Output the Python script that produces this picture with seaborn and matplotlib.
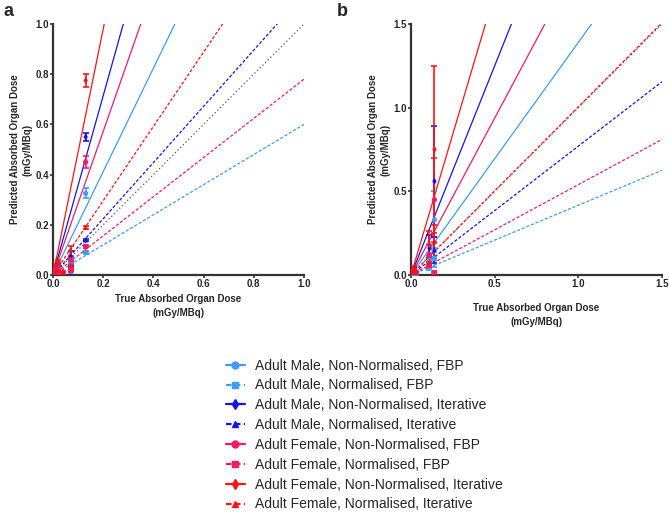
import numpy as np
import pandas as pd
import matplotlib
matplotlib.use('Agg')
import matplotlib.pyplot as plt
import seaborn as sns
from matplotlib.lines import Line2D

sns.set_style("ticks")
plt.rcParams['font.family'] = ['Liberation Sans', 'DejaVu Sans']

series = ['Adult Male, Non-Normalised, FBP', 'Adult Male, Normalised, FBP',
          'Adult Male, Non-Normalised, Iterative', 'Adult Male, Normalised, Iterative',
          'Adult Female, Non-Normalised, FBP', 'Adult Female, Normalised, FBP',
          'Adult Female, Non-Normalised, Iterative', 'Adult Female, Normalised, Iterative']
colors = ['#3f9bf5', '#3f9bf5', '#1414e6', '#1414e6', '#f01c64', '#f01c64', '#ff1414', '#ff1414']
markers = ['o', 's', 'd', '^', 'o', 's', 'd', '^']
normalised = [False, True, False, True, False, True, False, True]

# panel a: fitted slopes and measured points
slopes_a = [2.06, 0.60, 3.57, 1.12, 2.86, 0.78, 4.90, 1.48]
x_a = [0.01, 0.02, 0.04, 0.07, 0.13]
y_a = [[0.02, 0.03, 0.01, 0.05, 0.325],
       [0.005, 0.01, 0.005, 0.015, 0.09],
       [0.03, 0.04, 0.01, 0.075, 0.55],
       [0.01, 0.015, 0.005, 0.03, 0.14],
       [0.025, 0.035, 0.01, 0.06, 0.45],
       [0.008, 0.012, 0.005, 0.02, 0.115],
       [0.035, 0.05, 0.012, 0.095, 0.775],
       [0.012, 0.02, 0.006, 0.04, 0.19]]
e_a = [[0.005, 0.005, 0.003, 0.012, 0.02],
       [0.002, 0.002, 0.001, 0.004, 0.005],
       [0.006, 0.006, 0.003, 0.02, 0.015],
       [0.003, 0.003, 0.001, 0.006, 0.005],
       [0.005, 0.006, 0.003, 0.015, 0.025],
       [0.002, 0.003, 0.001, 0.005, 0.005],
       [0.008, 0.008, 0.004, 0.022, 0.025],
       [0.003, 0.004, 0.002, 0.008, 0.005]]

# panel b
slopes_b = [1.39, 0.417, 2.50, 0.77, 1.875, 0.54, 3.37, 1.005]
x_b = [0.005, 0.015, 0.03, 0.11, 0.14]
y_b = [[0.01, 0.02, 0.01, 0.09, 0.33],
       [0.004, 0.008, 0.004, 0.05, 0.10],
       [0.015, 0.03, 0.012, 0.16, 0.56],
       [0.006, 0.012, 0.006, 0.07, 0.15],
       [0.012, 0.025, 0.01, 0.12, 0.45],
       [0.005, 0.01, 0.005, 0.06, 0.012],
       [0.02, 0.04, 0.015, 0.18, 0.75],
       [0.008, 0.015, 0.008, 0.08, 0.20]]
e_b = [[0.005, 0.008, 0.004, 0.04, 0.17],
       [0.002, 0.003, 0.002, 0.02, 0.05],
       [0.008, 0.012, 0.005, 0.08, 0.33],
       [0.003, 0.005, 0.002, 0.03, 0.08],
       [0.006, 0.01, 0.004, 0.06, 0.25],
       [0.002, 0.004, 0.002, 0.02, 0.004],
       [0.01, 0.015, 0.006, 0.08, 0.50],
       [0.004, 0.006, 0.003, 0.035, 0.10]]

fig = plt.figure(figsize=(6.69, 5.12), dpi=100)
ax_a = fig.add_axes([53/669, 1-275/512, 251/669, 251/512])
ax_b = fig.add_axes([411/669, 1-275/512, 251/669, 251/512])


def draw_panel(ax, slopes, xs, ys, es, lim, ticks, xlab_y):
    xx = np.array([0, lim])
    sns.lineplot(x=xx, y=xx, ax=ax, color='#555555', linestyle=(0, (1, 2)), linewidth=0.9)
    for i in range(len(series)):
        ls = (0, (2.5, 1.5)) if normalised[i] else '-'
        sns.lineplot(x=xx, y=slopes[i]*xx, ax=ax, color=colors[i], linestyle=ls, linewidth=0.9)
        ax.errorbar(xs, ys[i], yerr=es[i], fmt='none', ecolor=colors[i], elinewidth=1.2, capsize=2, capthick=1.2, zorder=4)
        df = pd.DataFrame({'x': xs, 'y': ys[i]})
        sns.scatterplot(data=df, x='x', y='y', ax=ax, color=colors[i], marker=markers[i], s=14, edgecolor='none', zorder=5)
    ax.set_xlim(0, lim)
    ax.set_ylim(0, lim)
    ax.set_xticks(ticks)
    ax.set_yticks(ticks)
    ax.set_xticklabels([f'{t:.1f}' for t in ticks], fontsize=7, fontweight='bold')
    ax.set_yticklabels([f'{t:.1f}' for t in ticks], fontsize=7, fontweight='bold')
    ax.set_xlabel('True Absorbed Organ Dose\n(mGy/MBq)', fontsize=7, fontweight='bold', linespacing=1.5)
    ax.set_ylabel('Predicted Absorbed Organ Dose\n(mGy/MBq)', fontsize=7, fontweight='bold', linespacing=1.4)
    ax.xaxis.set_label_coords(0.5, xlab_y)
    ax.yaxis.set_label_coords(-0.127, 0.5)
    ax.xaxis.label.set_va('center')
    ax.yaxis.label.set_va('center')
    for s in ['left', 'bottom']:
        ax.spines[s].set_linewidth(1.6)
        ax.spines[s].set_color('#333333')
    ax.tick_params(width=1.2, length=2.2, pad=0.8, color='#333333')
    sns.despine(ax=ax)


draw_panel(ax_a, slopes_a, x_a, y_a, e_a, 1.0, [0.0, 0.2, 0.4, 0.6, 0.8, 1.0], -0.124)
draw_panel(ax_b, slopes_b, x_b, y_b, e_b, 1.5, [0.0, 0.5, 1.0, 1.5], -0.16)

fig.text(4/669, 1-12/512, 'a', fontsize=13, fontweight='bold', va='center')
fig.text(337/669, 1-12/512, 'b', fontsize=13, fontweight='bold', va='center')

handles = []
for i in range(len(series)):
    ls = (0, (2.5, 1.5)) if normalised[i] else '-'
    handles.append(Line2D([0], [0], color=colors[i], linestyle=ls, linewidth=1.6,
                          marker=markers[i], markersize=5))
fig.legend(handles, series, loc='upper left', bbox_to_anchor=(220/669, 1-353/512),
           frameon=False, fontsize=10, handlelength=1.4, handletextpad=0.7, labelspacing=0.42,
           borderaxespad=0)

fig.savefig('out.png', dpi=100)
